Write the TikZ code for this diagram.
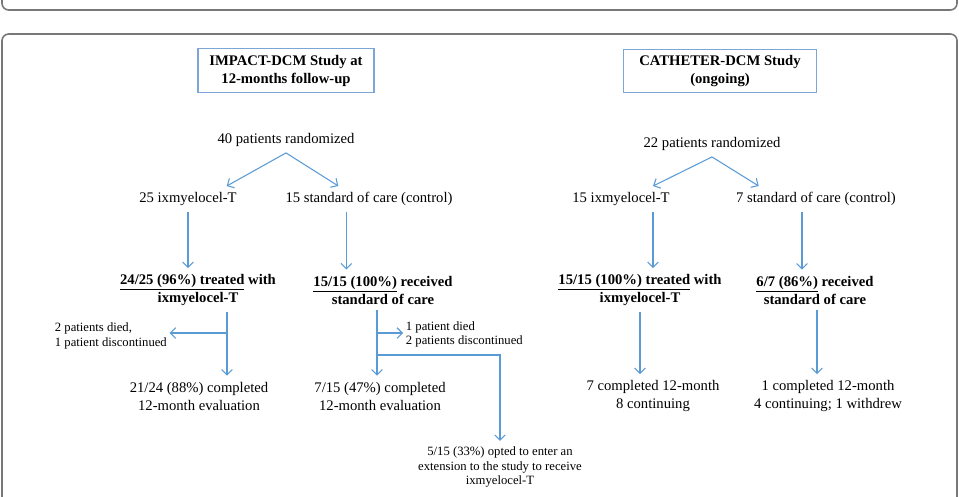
\documentclass[tikz,border=0pt]{standalone}
\usepackage{fontspec}
\setmainfont{Liberation Serif}
\usetikzlibrary{arrows.meta}
\definecolor{flowblue}{RGB}{91,155,213}
\definecolor{boxblue}{RGB}{125,165,215}
\definecolor{framegray}{RGB}{120,120,120}
\tikzset{
  txt/.style={inner sep=4.5pt, align=center, font=\fontsize{11}{13.5}\selectfont},
  boldtxt/.style={txt, font=\fontsize{11}{13.5}\selectfont\bfseries},
  note/.style={inner sep=2pt, align=left, font=\fontsize{9.5}{11}\selectfont},
  study/.style={boldtxt, draw=boxblue, line width=0.8pt, minimum height=32pt},
  arr/.style={flowblue, line width=0.8pt, -{Straight Barb[length=4pt,width=8pt]}},
  frame/.style={framegray, line width=1.2pt, rounded corners=5pt}
}

\begin{document}
\begin{tikzpicture}[x=0.75pt,y=-0.75pt]
\useasboundingbox (0,0) rectangle (959,496);
\clip (0,0) rectangle (959,496);
% panel borders
\draw [frame] (2,-10) -- (2,10) -- (957,10) -- (957,-10);
\draw [frame] (2,510) -- (2,34) -- (957,34) -- (957,510);

% IMPACT-DCM
\node [study, minimum width=132pt] (study1) at (286,70.5) {IMPACT-DCM Study at\\12-months follow-up};
\node [txt] (rand1) at (286,140) {40 patients randomized};
\node [txt] (arm1) at (188,199) {25 ixmyelocel-T};
\node [txt] (arm2) at (369,199) {15 standard of care (control)};
\node [boldtxt] (treat1) at (198,290) {\underline{24/25 (96\%) treated} with\\ixmyelocel-T};
\node [boldtxt] (treat2) at (383,290) {\underline{15/15 (100\%)} received\\standard of care};
\node [note, anchor=west] (died1) at (52,336) {2 patients died,\\1 patient discontinued};
\node [note, anchor=west] (died2) at (403,334.5) {1 patient died\\2 patients discontinued};
\node [txt] (comp1) at (199,396) {21/24 (88\%) completed\\12-month evaluation};
\node [txt] (comp2) at (380,396) {7/15 (47\%) completed\\12-month evaluation};
\node [note, align=center, inner sep=4pt] (ext) at (500,467) {5/15 (33\%) opted to enter an\\extension to the study to receive\\ixmyelocel-T};

\coordinate (split1) at (227,333);
\coordinate (split2) at (377,333);
\coordinate (split3) at (377,355);

\draw [arr] (rand1.south) -- ([xshift=29pt]arm1.north);
\draw [arr] (rand1.south) -- ([xshift=-23pt]arm2.north);
\draw [arr] (arm1.south) -- (arm1.south |- treat1.north);
\draw [arr] ([xshift=-17pt]arm2.south) -- ([xshift=-17pt]arm2.south |- treat2.north);
\draw [arr] (split1 |- treat1.south) -- (split1 |- comp1.north);
\draw [arr] (split1) -- (split1 -| died1.east);
\draw [arr] (split2 |- treat2.south) -- (split2 |- comp2.north);
\draw [arr] (split2) -- (split2 -| died2.west);
\draw [arr] (split3) -| (ext.north);

% CATHETER-DCM
\node [study, minimum width=145pt] (study2) at (720,71) {CATHETER-DCM Study\\(ongoing)};
\node [txt] (rand2) at (712,144) {22 patients randomized};
\node [txt] (arm3) at (621,199) {15 ixmyelocel-T};
\node [txt] (arm4) at (816,199) {7 standard of care (control)};
\node [boldtxt] (treat3) at (640,290) {\underline{15/15 (100\%) treated} with\\ixmyelocel-T};
\node [boldtxt] (treat4) at (815,290) {\underline{6/7 (86\%)} received\\standard of care};
\node [txt] (comp3) at (653,396) {7 completed 12-month\\8 continuing};
\node [txt] (comp4) at (828,396) {1 completed 12-month\\4 continuing; 1 withdrew};

\draw [arr] (rand2.south) -- ([xshift=24pt]arm3.north);
\draw [arr] (rand2.south) -- ([xshift=-43pt]arm4.north);
\draw [arr] ([xshift=24pt]arm3.south) -- ([xshift=24pt]arm3.south |- treat3.north);
\draw [arr] ([xshift=-10.5pt]arm4.south) -- ([xshift=-10.5pt]arm4.south |- treat4.north);
\draw [arr] (treat3.south) -- (treat3.south |- comp3.north);
\draw [arr] ([xshift=1.5pt]treat4.south) -- ([xshift=1.5pt]treat4.south |- comp4.north);
\end{tikzpicture}
\end{document}
